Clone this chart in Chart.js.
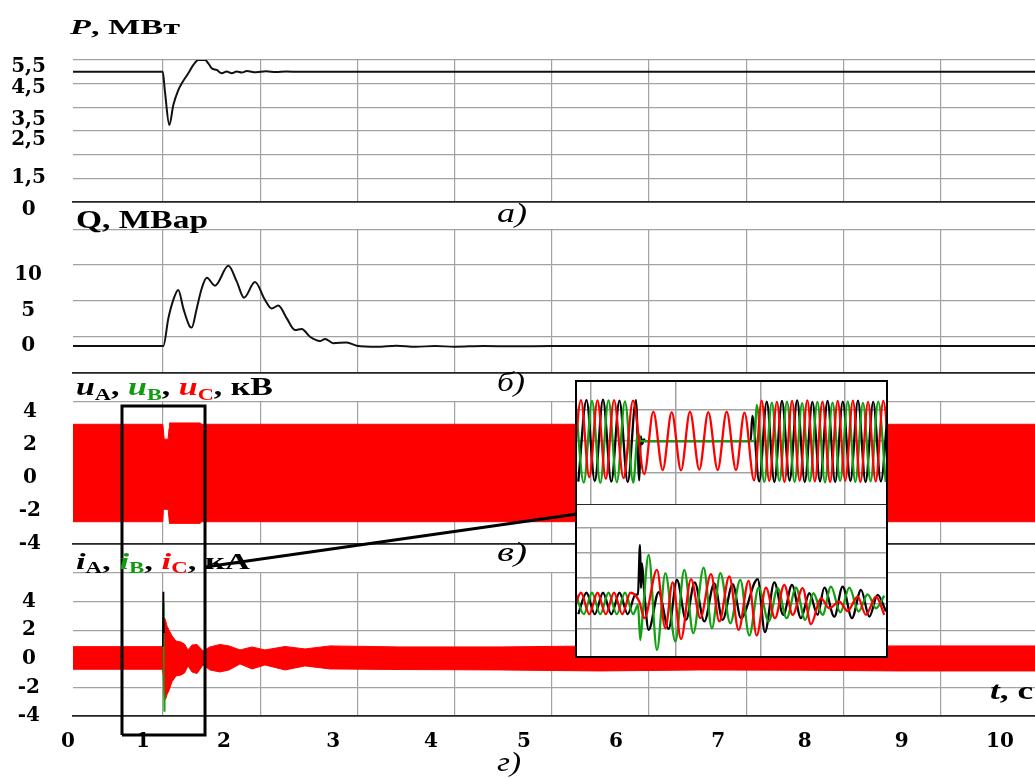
<!DOCTYPE html>
<html><head><meta charset="utf-8">
<script src="https://cdn.jsdelivr.net/npm/chart.js@4.4.0/dist/chart.umd.min.js"></script>
<style>
html,body{margin:0;padding:0;background:#fff;}
#wrap{position:relative;width:1035px;height:778px;overflow:hidden;font-family:"Liberation Serif","Times New Roman",serif;}
canvas.full{position:absolute;left:0;top:0;}
.ttl{position:absolute;font-weight:bold;color:#000;white-space:nowrap;line-height:1;transform-origin:0 0;}
.ttl sub{font-size:0.66em;vertical-align:-0.28em;line-height:0;}
.lt{position:absolute;font-style:italic;font-weight:normal;color:#000;white-space:nowrap;line-height:1;transform-origin:0 0;}
.g{color:#129a12;} .r{color:#ff0000;}
#inset{position:absolute;left:575px;top:380px;width:309px;height:274px;border:2px solid #000;background:#fff;}
#inset canvas{display:block;}
</style></head>
<body>
<div id="wrap">
<canvas id="cP" class="full" width="1035" height="778" style="z-index:1"></canvas>
<canvas id="cQ" class="full" width="1035" height="778" style="z-index:2"></canvas>
<canvas id="cU" class="full" width="1035" height="778" style="z-index:3"></canvas>
<canvas id="cI" class="full" width="1035" height="778" style="z-index:4"></canvas>
<div id="inset" style="z-index:5"><canvas id="cIU" width="309" height="123"></canvas><canvas id="cII" width="309" height="151"></canvas></div>

<div class="ttl" data-w="110" style="left:70px;top:16px;font-size:22px;z-index:6"><i>P</i>, МВт</div>
<div class="ttl" data-w="132" style="left:76px;top:207px;font-size:25px;z-index:6">Q, МВар</div>
<div class="ttl" data-w="197" style="left:76px;top:374px;font-size:25px;z-index:6"><i>u</i><sub>A</sub>, <i class="g">u</i><sub class="g">B</sub>, <i class="r">u</i><sub class="r">C</sub>, кВ</div>
<div class="ttl" data-w="174" style="left:76px;top:549px;font-size:24px;z-index:6"><i>i</i><sub>A</sub>, <i class="g">i</i><sub class="g">B</sub>, <i class="r">i</i><sub class="r">C</sub>, кА</div>
<div class="ttl" data-w="43" style="left:990px;top:678px;font-size:26px;z-index:6"><i>t</i>, c</div>
<div class="lt" data-w="30" style="left:497px;top:199px;font-size:28px;z-index:6">а)</div>
<div class="lt" data-w="28" style="left:497px;top:368px;font-size:28px;z-index:6">б)</div>
<div class="lt" data-w="30" style="left:497px;top:538px;font-size:28px;z-index:6">в)</div>
<div class="lt" data-w="24" style="left:497px;top:748px;font-size:28px;z-index:6">г)</div>
</div>
<script>
// ---------- shared time axis ----------
const X_MIN = 0.074, X_MAX = 9.97;
const gridSeconds = [1, 2, 3, 4, 5, 6, 7, 8, 9];
const xTickLabels = ['0', '1', '2', '3', '4', '5', '6', '7', '8', '9', '10'];
const xTickLabelAt = [0.023, 0.794, 1.628, 2.75, 3.757, 4.714, 5.66, 6.71, 7.60, 8.60, 9.61];

// ---------- a) active power P, MW ----------
const pTime  = [0.074, 0.997, 1.02, 1.065, 1.106, 1.157, 1.192, 1.26, 1.312, 1.363, 1.432, 1.466, 1.501, 1.552, 1.604, 1.655, 1.707, 1.758, 1.81, 1.861, 1.957, 2.06, 2.162, 2.265, 2.41, 9.97];
const pValue = [5.5, 5.5, 4.66, 3.25, 4.1, 4.73, 5.01, 5.44, 5.79, 6.0, 6.0, 5.86, 5.65, 5.58, 5.44, 5.51, 5.44, 5.51, 5.47, 5.53, 5.48, 5.52, 5.49, 5.51, 5.5, 5.5];
const pGrid = [0, 1, 2, 3, 4, 5, 6];
const pTickLabels = ['5,5', '4,5', '3,5', '2,5', '1,5', '0'];
const pTickAt = [5.72, 4.84, 3.46, 2.62, 1.035, -0.32];

// ---------- б) reactive power Q, MVAr ----------
const qTime  = [0.074, 1.003, 1.055, 1.106, 1.157, 1.209, 1.278, 1.295, 1.347, 1.398, 1.45, 1.535, 1.672, 1.758, 1.833, 1.946, 2.049, 2.118, 2.186, 2.273, 2.358, 2.427, 2.512, 2.615, 2.667, 2.752, 2.89, 2.993, 3.2, 3.4, 3.6, 3.8, 4.0, 4.3, 4.6, 5.0, 9.97];
const qValue = [0, 0, 3.9, 6.5, 7.9, 5.3, 2.7, 2.6, 5.3, 8.1, 9.6, 8.5, 11.3, 9.1, 6.8, 9.0, 6.5, 5.3, 5.7, 3.9, 2.25, 2.4, 1.3, 0.7, 1.0, 0.4, 0.5, 0.05, -0.1, 0.05, -0.1, 0.0, -0.1, 0.0, -0.05, 0, 0];
const qGrid = [-3.8, 1.27, 6.34, 11.41, 16.34];
const qTickLabels = ['10', '5', '0'];
const qTickAt = [10, 5, 0];

// ---------- в) phase voltages, kV (envelope of the 50 Hz traces) ----------
const uEnvTime = [0.074, 0.997, 1.004, 1.012, 1.053, 1.062, 1.068, 1.38, 1.40, 9.97];
const uUpper   = [3.25, 3.25, 2.9, 2.35, 2.35, 3.0, 3.33, 3.33, 3.25, 3.25];
const uLower   = [-2.65, -2.65, -1.95, -1.9, -1.9, -2.5, -2.75, -2.75, -2.65, -2.65];
const uGrid = [-4, 4.6];
const uTickLabels = ['4', '2', '0', '-2', '-4'];
const uTickAt = [4, 2, 0, -2, -4];

// ---------- г) phase currents, kA (envelope) ----------
const iEnvTime = [0.074, 0.995, 1.003, 1.013, 1.026, 1.041, 1.062, 1.093, 1.134, 1.185, 1.221, 1.257, 1.298, 1.35, 1.412, 1.483, 1.585, 1.679, 1.792, 1.916, 2.049, 2.255, 2.461, 2.718, 3.438, 4.467, 5.496, 6.525, 7.554, 8.582, 9.97];
const iUpper   = [0.85, 0.85, 2.95, 2.9, 2.7, 2.3, 2.0, 1.6, 1.24, 1.17, 1.03, 0.62, 0.96, 1.0, 0.55, 0.83, 1.0, 0.9, 0.62, 0.83, 0.62, 0.86, 0.69, 0.9, 0.83, 0.83, 0.9, 0.83, 0.86, 0.9, 0.9];
const iLower   = [-0.73, -0.73, -1.2, -2.6, -2.85, -2.5, -2.2, -1.6, -1.2, -1.13, -1.0, -0.5, -0.92, -1.03, -0.43, -0.78, -0.92, -0.78, -0.36, -0.71, -0.43, -0.78, -0.5, -0.71, -0.75, -0.78, -0.85, -0.78, -0.8, -0.85, -0.85];
const iSpikeATime = [0.997, 1.002, 1.006, 1.012];
const iSpikeA     = [0.85, 4.69, 2.9, 1.8];
const iSpikeBTime = [0.998, 1.003, 1.008, 1.012, 1.018];
const iSpikeB     = [0.8, 3.9, -0.5, -3.65, -2.5];
const iGrid = [-4, -2, 0, 2, 4, 6];
const iTickLabels = ['4', '2', '0', '-2', '-4'];
const iTickAt = [4, 2, 0, -2, -4];

// zoom frame (time, kA) and leader line to the inset
const zoomBoxTime = [0.578, 1.432];
const zoomBoxCurrent = [-5.33, 17.68];
const leaderTime = [1.432, 5.259];
const leaderCurrent = [6.42, 10.13];

// ---------- inset (time in ms) ----------
const insetTMin = 983.5, insetTMax = 1348.3;
const insetGridMs = [1000, 1100, 1200, 1300];
// voltages
const uaT = [985.0, 994.7, 1004.5, 1014.2, 1024.0, 1033.6, 1043.4, 1053.1, 1057.0, 1058.8, 1060.5, 1062.5, 1064, 1188.5, 1190.5, 1198.6, 1207.5, 1216.5, 1225.5, 1234.5, 1243.4, 1252.4, 1261.4, 1270.4, 1279.3, 1288.3, 1297.3, 1306.3, 1315.2, 1324.2, 1333.2, 1342.2, 1351.1];
const uaV = [-1.29, 1.3, -1.27, 1.31, -1.29, 1.28, -1.3, 1.3, -1.25, 0.15, -0.1, 0.05, 0, 0, 0.8, -1.28, 1.25, -1.3, 1.27, -1.26, 1.29, -1.3, 1.24, -1.28, 1.27, -1.3, 1.25, -1.27, 1.28, -1.3, 1.24, -1.28, 1.27];
const ubT = [981.7, 991.5, 1001.2, 1011.0, 1020.7, 1030.5, 1040.1, 1049.9, 1055.5, 1058.5, 1193.0, 1195.6, 1204.6, 1213.5, 1222.5, 1231.4, 1240.4, 1249.3, 1258.3, 1267.3, 1276.3, 1285.2, 1294.2, 1303.2, 1312.1, 1321.1, 1330.1, 1339.1, 1348.0];
const ubV = [1.28, -1.32, 1.27, -1.33, 1.29, -1.31, 1.26, -1.32, 0.25, 0, 0, 1.15, -1.3, 1.22, -1.27, 1.25, -1.3, 1.2, -1.28, 1.24, -1.31, 1.22, -1.27, 1.26, -1.3, 1.21, -1.28, 1.25, -1.3];
const ucT = [978.5, 988.2, 998.0, 1007.7, 1017.5, 1027.2, 1038.4, 1049.6, 1062.9, 1073.6, 1084.7, 1095.3, 1106.3, 1116.9, 1127.9, 1138.5, 1149.6, 1160.2, 1171.2, 1181.2, 1192.6, 1201.5, 1210.5, 1219.5, 1228.4, 1237.4, 1246.4, 1255.4, 1264.3, 1273.3, 1282.3, 1291.3, 1300.2, 1309.2, 1318.1, 1327.1, 1336.1, 1345.1, 1354.1];
const ucV = [-1.2, 1.3, -1.15, 1.29, -1.2, 1.3, -1.18, 1.28, -1.05, 0.93, -0.92, 0.92, -0.93, 0.93, -0.91, 0.92, -0.92, 0.93, -0.92, 0.9, -1.25, 1.28, -1.27, 1.24, -1.3, 1.27, -1.26, 1.29, -1.28, 1.25, -1.3, 1.27, -1.26, 1.28, -1.3, 1.24, -1.28, 1.27, -1.3];
// currents
const iaT = [985.0, 994.7, 1004.5, 1014.2, 1024.0, 1033.6, 1043.4, 1052.5, 1055.5, 1057.9, 1059.0, 1060.2, 1063.0, 1068.1, 1079.9, 1091.7, 1101.5, 1112.2, 1122.4, 1133.8, 1145.6, 1155.4, 1167.3, 1177.1, 1196.8, 1205.4, 1216.4, 1227.1, 1237.3, 1247.9, 1257.8, 1267.6, 1275.5, 1287.3, 1297.1, 1308.1, 1318.8, 1328.6, 1338.4, 1348.3];
const iaV = [-0.42, 0.42, -0.42, 0.42, -0.42, 0.42, -0.42, 0.35, 0.36, 2.3, 0.6, 1.58, 0.4, -1.04, 0.44, -1.0, 0.93, -0.65, 0.83, -0.71, 0.79, -0.65, 0.76, -0.58, 0.96, -1.13, 0.83, -0.45, 0.73, -0.58, 0.4, -0.45, 0.62, -0.52, 0.66, -0.58, 0.53, -0.52, 0.34, -0.32];
const ibT = [981.7, 991.5, 1001.2, 1011.0, 1020.7, 1030.5, 1040.1, 1049.9, 1055.5, 1058.2, 1061.0, 1068.1, 1077.9, 1087.8, 1099.6, 1110.2, 1120.8, 1133.0, 1142.8, 1152.7, 1164.5, 1176.3, 1186.9, 1197.9, 1209.8, 1220.4, 1231.0, 1242.0, 1253.0, 1262.5, 1273.5, 1283.3, 1294.4, 1305.0, 1316.0, 1326.6, 1336.5, 1346.3];
const ibV = [0.42, -0.42, 0.42, -0.42, 0.42, -0.42, 0.42, -0.42, -0.06, -1.44, -0.45, 1.91, -1.83, 1.19, -1.5, 1.32, -1.17, 1.41, -0.98, 1.19, -0.78, 0.93, -1.26, 0.62, -0.71, 0.6, -0.58, 0.62, -0.65, 0.4, -0.45, 0.66, -0.35, 0.62, -0.32, 0.36, -0.19, 0.31];
const icT = [978.5, 988.2, 998.0, 1007.7, 1017.5, 1027.2, 1037.0, 1046.6, 1057.1, 1063.0, 1077.9, 1087.8, 1096.4, 1106.3, 1118.1, 1129.1, 1141.7, 1151.5, 1163.3, 1174.3, 1186.1, 1195.6, 1206.6, 1217.2, 1228.2, 1238.1, 1249.9, 1259.7, 1271.5, 1281.4, 1293.2, 1303.0, 1314.8, 1324.6, 1336.5, 1346.3];
const icV = [-0.42, 0.42, -0.42, 0.42, -0.42, 0.42, -0.42, 0.42, 0.07, -0.58, 1.32, -0.98, 0.83, -1.4, 0.96, -0.58, 1.15, -0.71, 1.06, -1.04, 0.89, -1.26, 0.62, -0.58, 0.73, -0.45, 0.6, -0.82, 0.2, -0.19, 0.07, -0.3, 0.27, -0.45, 0.27, -0.45];

// ---------- styling / helpers ----------
const H = 778;
const GRID = '#a2a2a2';
const DARK = '#262626';
const BLACK = '#000000', GREEN = '#10a010', RED = '#ff0000';
const TICK_FONT = {family: 'DejaVu Serif', weight: 'bold', size: 20};
const NONE = 'rgba(0,0,0,0)';

const pts = (t, v) => t.map((x, i) => ({x: x, y: v[i]}));
const tickSetter = (grid, at, labels) => s => {
  const t = grid.map(v => ({value: v, g: true}));
  at.forEach((v, i) => t.push({value: v, lbl: labels[i]}));
  t.sort((a, b) => a.value - b.value);
  s.ticks = t;
};
const lblCb = (v, i, t) => (t[i] && t[i].lbl) ? t[i].lbl : '';
const gridColor = c => (c.tick && c.tick.g) ? GRID : NONE;

function panel(id, o) {
  return new Chart(document.getElementById(id), {
    type: 'line',
    data: {datasets: o.datasets},
    options: {
      responsive: false, animation: false, devicePixelRatio: 1,
      layout: {padding: {top: o.top, bottom: o.showX ? 0 : H - o.bottom, left: 0, right: 0}},
      plugins: {legend: {display: false}, tooltip: {enabled: false}},
      elements: {point: {radius: 0}},
      scales: {
        x: {
          type: 'linear', min: X_MIN, max: X_MAX,
          afterBuildTicks: tickSetter(gridSeconds, o.showX ? xTickLabelAt : [], xTickLabels),
          afterFit: s => { s.height = o.showX ? H - o.bottom : 0; },
          grid: {drawTicks: false, color: gridColor, lineWidth: 1.2},
          border: {display: true, color: DARK, width: 1.8},
          ticks: {display: !!o.showX, autoSkip: false, maxRotation: 0, minRotation: 0, padding: 14, font: TICK_FONT, color: '#000', callback: lblCb}
        },
        y: {
          type: 'linear', min: o.yMin, max: o.yMax,
          afterBuildTicks: tickSetter(o.grid, o.tickAt, o.tickLabels),
          afterFit: s => { s.width = 73; },
          grid: {drawTicks: false, color: gridColor, lineWidth: 1.2},
          border: {display: false},
          ticks: {autoSkip: false, crossAlign: 'center', padding: o.tickPad, font: TICK_FONT, color: '#000', callback: lblCb}
        }
      }
    }
  });
}

const curve = (data, color, w) => ({data, borderColor: color, borderWidth: w, fill: false, tension: 0.4, cubicInterpolationMode: 'monotone', pointRadius: 0});
const straight = (data, color, w, extra) => Object.assign({data, borderColor: color, borderWidth: w, fill: false, tension: 0, pointRadius: 0}, extra || {});

// a) P
panel('cP', {top: 60, bottom: 202, yMin: 0, yMax: 6, grid: pGrid, tickAt: pTickAt, tickLabels: pTickLabels, tickPad: 27,
  datasets: [curve(pts(pTime, pValue), '#111', 2)]});

// б) Q
panel('cQ', {top: 230, bottom: 373, yMin: -3.8, yMax: 16.34, grid: qGrid, tickAt: qTickAt, tickLabels: qTickLabels, tickPad: 31,
  datasets: [curve(pts(qTime, qValue), '#111', 2)]});

// в) u
panel('cU', {top: 402, bottom: 544, yMin: -4, yMax: 4.6, grid: uGrid, tickAt: uTickAt, tickLabels: uTickLabels, tickPad: 32,
  datasets: [
    straight(pts(uEnvTime, uUpper), RED, 1, {fill: '+1', backgroundColor: RED}),
    straight(pts(uEnvTime, uLower), RED, 1)
  ]});

// г) i  (+ zoom frame and leader)
const boxData = [
  {x: zoomBoxTime[0], y: zoomBoxCurrent[0]}, {x: zoomBoxTime[0], y: zoomBoxCurrent[1]},
  {x: zoomBoxTime[1], y: zoomBoxCurrent[1]}, {x: zoomBoxTime[1], y: zoomBoxCurrent[0]},
  {x: zoomBoxTime[0], y: zoomBoxCurrent[0]}
];
panel('cI', {top: 573, bottom: 716, yMin: -4, yMax: 6, grid: iGrid, tickAt: iTickAt, tickLabels: iTickLabels, tickPad: 33, showX: true,
  datasets: [
    straight(boxData, BLACK, 3, {clip: false, order: 0, borderJoinStyle: 'miter'}),
    straight(pts(leaderTime, leaderCurrent), BLACK, 3, {clip: false, order: 0}),
    straight(pts(iSpikeATime, iSpikeA), BLACK, 1.5, {order: 1}),
    straight(pts(iSpikeBTime, iSpikeB), GREEN, 1.5, {order: 1}),
    straight(pts(iEnvTime, iUpper), RED, 1, {fill: '+1', backgroundColor: RED, order: 2}),
    straight(pts(iEnvTime, iLower), RED, 1, {order: 3})
  ]});

// inset
function insetChart(id, o) {
  return new Chart(document.getElementById(id), {
    type: 'line',
    data: {datasets: o.datasets},
    options: {
      responsive: false, animation: false, devicePixelRatio: 1,
      layout: {padding: {top: o.padTop || 0, bottom: 0, left: 0, right: 0}},
      plugins: {legend: {display: false}, tooltip: {enabled: false}},
      elements: {point: {radius: 0}},
      scales: {
        x: {type: 'linear', min: insetTMin, max: insetTMax,
          afterBuildTicks: s => { s.ticks = insetGridMs.map(v => ({value: v})); },
          afterFit: s => { s.height = 0; },
          grid: {drawTicks: false, color: GRID, lineWidth: 1.5},
          border: {display: o.bottomBorder, color: DARK, width: 2},
          ticks: {display: false}},
        y: {type: 'linear', min: o.yMin, max: o.yMax,
          afterBuildTicks: s => { s.ticks = o.grid.map(v => ({value: v})); },
          afterFit: s => { s.width = 0; },
          grid: {drawTicks: false, color: GRID, lineWidth: 1.5},
          border: {display: false},
          ticks: {display: false}}
      }
    }
  });
}
insetChart('cIU', {yMin: -2.03, yMax: 1.873, grid: [-1, 0, 1], bottomBorder: true,
  datasets: [
    curve(pts(uaT, uaV), BLACK, 2.3),
    curve(pts(ubT, ubV), GREEN, 2.3),
    curve(pts(ucT, ucV), RED, 2.3)
  ].map((d, i) => Object.assign(d, {order: 3 - i}))});
insetChart('cII', {yMin: -2.07, yMax: 2.97, grid: [-1, 0, 1, 2, 2.97], padTop: 23, bottomBorder: false,
  datasets: [
    curve(pts(iaT, iaV), BLACK, 2.3),
    curve(pts(ibT, ibV), GREEN, 2.3),
    curve(pts(icT, icV), RED, 2.3)
  ].map((d, i) => Object.assign(d, {order: 3 - i}))});

// stretch caption text to the reference widths
document.querySelectorAll('[data-w]').forEach(el => {
  const w = el.getBoundingClientRect().width;
  if (w > 0) el.style.transform = 'scaleX(' + (parseFloat(el.dataset.w) / w) + ')';
});
</script>
</body></html>
